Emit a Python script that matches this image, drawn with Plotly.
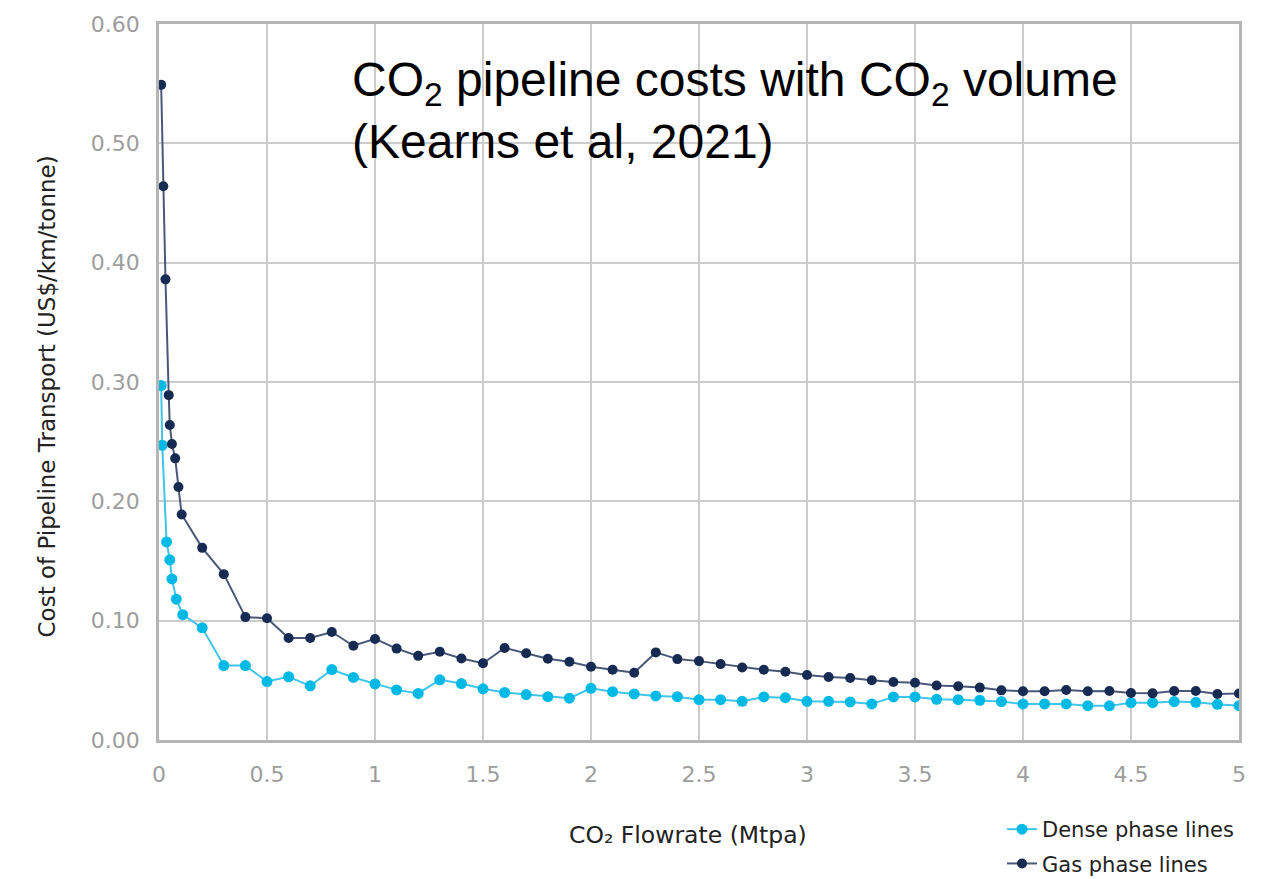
import plotly.graph_objects as go

dense_x = [0.01, 0.015, 0.035, 0.05, 0.06, 0.08, 0.11, 0.2, 0.3, 0.4, 0.5, 0.6, 0.7, 0.8, 0.9, 1.0,
           1.1, 1.2, 1.3, 1.4, 1.5, 1.6, 1.7, 1.8, 1.9, 2.0, 2.1, 2.2, 2.3, 2.4, 2.5, 2.6, 2.7, 2.8,
           2.9, 3.0, 3.1, 3.2, 3.3, 3.4, 3.5, 3.6, 3.7, 3.8, 3.9, 4.0, 4.1, 4.2, 4.3, 4.4, 4.5, 4.6,
           4.7, 4.8, 4.9, 5.0]
dense_y = [0.297, 0.247, 0.166, 0.151, 0.135, 0.118, 0.105, 0.094, 0.0624, 0.0624, 0.049, 0.053,
           0.0454, 0.059, 0.0524, 0.047, 0.042, 0.039, 0.0504, 0.0473, 0.0429, 0.0398, 0.0381,
           0.0363, 0.035, 0.0433, 0.0405, 0.0386, 0.0369, 0.0363, 0.0338, 0.0338, 0.0324, 0.0361,
           0.0355, 0.0324, 0.0324, 0.0319, 0.0302, 0.0361, 0.0361, 0.0341, 0.0338, 0.0333, 0.0322,
           0.0302, 0.0302, 0.0302, 0.0288, 0.0286, 0.0313, 0.0313, 0.0322, 0.0316, 0.0299, 0.0288]

gas_x = [0.01, 0.02, 0.03, 0.045, 0.05, 0.06, 0.075, 0.09, 0.105, 0.2, 0.3, 0.4, 0.5, 0.6, 0.7,
         0.8, 0.9, 1.0, 1.1, 1.2, 1.3, 1.4, 1.5, 1.6, 1.7, 1.8, 1.9, 2.0, 2.1, 2.2, 2.3, 2.4, 2.5,
         2.6, 2.7, 2.8, 2.9, 3.0, 3.1, 3.2, 3.3, 3.4, 3.5, 3.6, 3.7, 3.8, 3.9, 4.0, 4.1, 4.2, 4.3,
         4.4, 4.5, 4.6, 4.7, 4.8, 4.9, 5.0]
gas_y = [0.549, 0.464, 0.386, 0.289, 0.264, 0.248, 0.236, 0.212, 0.189, 0.161, 0.139, 0.103,
         0.102, 0.0855, 0.0855, 0.0905, 0.079, 0.0847, 0.0766, 0.0705, 0.074, 0.0683, 0.0643,
         0.0771, 0.0727, 0.0681, 0.0656, 0.0614, 0.0589, 0.0564, 0.0734, 0.0678, 0.0661, 0.0636,
         0.0608, 0.0589, 0.0572, 0.0544, 0.0528, 0.052, 0.05, 0.0486, 0.048, 0.0457, 0.045,
         0.0439, 0.0416, 0.0408, 0.0408, 0.0419, 0.0408, 0.0411, 0.0394, 0.0391, 0.0411, 0.0411,
         0.0386, 0.0389]

x_ticks = [0, 0.5, 1, 1.5, 2, 2.5, 3, 3.5, 4, 4.5, 5]
x_tick_labels = ["0", "0.5", "1", "1.5", "2", "2.5", "3", "3.5", "4", "4.5", "5"]
y_ticks = [0, 0.1, 0.2, 0.3, 0.4, 0.5, 0.6]
y_tick_labels = ["0.00", "0.10", "0.20", "0.30", "0.40", "0.50", "0.60"]

FONT = "DejaVu Sans, sans-serif"
W, H = 1272, 879
L, R, T, B = 159, 33, 21, 139
PW, PH = W - L - R, H - T - B

fig = go.Figure()
fig.add_trace(go.Scatter(
    x=dense_x, y=dense_y, mode="lines+markers", name="Dense phase lines",
    legendgroup="d",
    line=dict(color="#3fc4ea", width=2),
    marker=dict(color="#00b9e4", size=11),
))
fig.add_trace(go.Scatter(
    x=gas_x, y=gas_y, mode="lines+markers", name="Gas phase lines",
    legendgroup="g",
    line=dict(color="#4a5878", width=2),
    marker=dict(color="#162a52", size=10),
))

fig.update_layout(
    width=W, height=H,
    margin=dict(l=L, r=R, t=T, b=B),
    paper_bgcolor="white", plot_bgcolor="white",
    font=dict(family=FONT, color="#222"),
    legend=dict(
        xref="paper", yref="container",
        x=(1002 - L) / PW, y=1 - 809 / H, xanchor="left", yanchor="top",
        font=dict(size=21, color="#222", family=FONT),
        traceorder="grouped", tracegroupgap=4,
        bgcolor="rgba(0,0,0,0)",
    ),
    annotations=[
        dict(text="CO<sub>2</sub> pipeline costs with CO<sub>2</sub> volume<br>(Kearns et al, 2021)",
             xref="paper", yref="paper", x=(350 - L) / PW, y=(H - B - 48) / PH,
             xanchor="left", yanchor="top", align="left", showarrow=False,
             font=dict(family="Liberation Sans, Arial", size=48, color="black")),
        dict(text="CO₂ Flowrate (Mtpa)", xref="paper", yref="paper",
             x=(688 - L) / PW, y=(H - B - 835) / PH, xanchor="center", yanchor="middle",
             showarrow=False, font=dict(family=FONT, size=23.5, color="#222")),
        dict(text="Cost of Pipeline Transport (US$/km/tonne)", xref="paper", yref="paper",
             x=(47 - L) / PW, y=(H - B - 395) / PH, xanchor="center", yanchor="middle",
             textangle=-90, showarrow=False, font=dict(family=FONT, size=23, color="#222")),
    ],
)
fig.update_xaxes(
    range=[0, 5], tickvals=x_ticks, ticktext=x_tick_labels,
    showgrid=True, gridcolor="#cccccc", gridwidth=1.5,
    showline=True, linecolor="#b5b5b5", linewidth=2.5, mirror=True,
    zeroline=False, ticks="", ticklabelstandoff=13,
    tickfont=dict(size=22, color="#9d9d9d", family=FONT),
)
fig.update_yaxes(
    range=[0, 0.6], tickvals=y_ticks, ticktext=y_tick_labels,
    showgrid=True, gridcolor="#cccccc", gridwidth=1.5,
    showline=True, linecolor="#b5b5b5", linewidth=2.5, mirror=True,
    zeroline=False, ticks="", ticklabelstandoff=12,
    tickfont=dict(size=22, color="#9d9d9d", family=FONT),
)

fig.write_html("out.html")
